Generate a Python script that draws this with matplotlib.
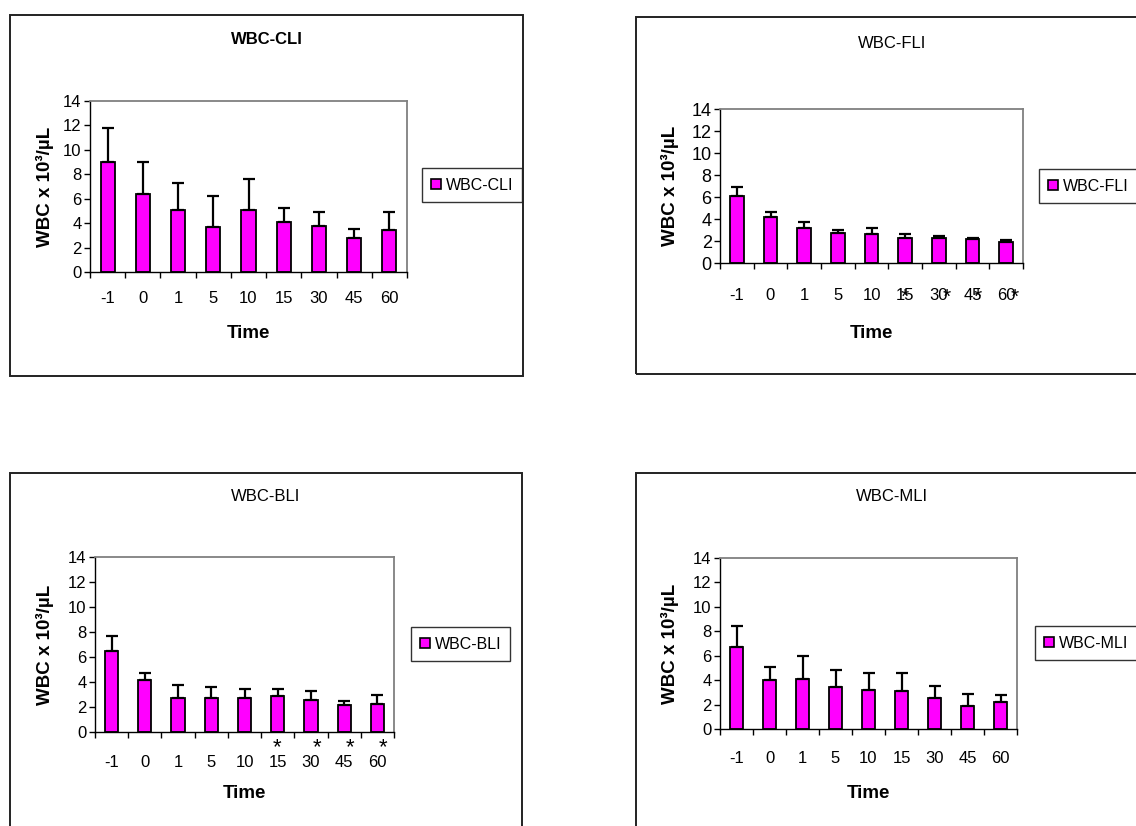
import matplotlib
matplotlib.use("Agg")
import matplotlib.pyplot as plt
from matplotlib.lines import Line2D
from matplotlib.patches import Rectangle

plt.rcParams["font.family"] = ["Liberation Sans", "DejaVu Sans"]

times = ["-1", "0", "1", "5", "10", "15", "30", "45", "60"]

cli_mean = [9.0, 6.4, 5.1, 3.7, 5.1, 4.1, 3.8, 2.8, 3.4]
cli_sd = [2.8, 2.6, 2.2, 2.5, 2.5, 1.1, 1.1, 0.7, 1.5]

fli_mean = [6.1, 4.2, 3.2, 2.75, 2.6, 2.3, 2.25, 2.15, 1.95]
fli_sd = [0.8, 0.45, 0.55, 0.25, 0.55, 0.33, 0.2, 0.15, 0.15]

bli_mean = [6.5, 4.2, 2.7, 2.75, 2.7, 2.85, 2.6, 2.2, 2.25]
bli_sd = [1.2, 0.5, 1.1, 0.85, 0.75, 0.6, 0.7, 0.27, 0.72]

mli_mean = [6.7, 4.0, 4.1, 3.4, 3.2, 3.1, 2.5, 1.9, 2.25]
mli_sd = [1.75, 1.1, 1.85, 1.45, 1.35, 1.45, 1.05, 0.95, 0.5]

# time points marked significant (index into times)
fli_sig = [5, 6, 7, 8]
bli_sig = [5, 6, 7, 8]

BAR = "#ff00ff"
W, H = 1136, 826
fig = plt.figure(figsize=(W / 100, H / 100), dpi=100)


def px_rect(x0, y0, x1, y1):
    return [x0 / W, 1 - y1 / H, (x1 - x0) / W, (y1 - y0) / H]


def frame(x0, y0, x1, y1):
    fig.patches.append(Rectangle((x0 / W, 1 - y1 / H), (x1 - x0) / W, (y1 - y0) / H,
                                 transform=fig.transFigure, fill=False,
                                 edgecolor="#222222", linewidth=1.4, clip_on=False))


def panel(rect, mean, sd, name, title_bold, title_xy, ylab_x, xlab_y, leg_x, leg_y,
          ytick_size=12, tick_pad=8):
    ax = fig.add_axes(px_rect(*rect))
    x = list(range(len(times)))
    ax.bar(x, mean, width=0.4, color=BAR, edgecolor="black", linewidth=1.3, zorder=2)
    ax.errorbar(x, mean, yerr=[[0] * len(sd), sd], fmt="none", ecolor="black",
                elinewidth=1.6, capsize=4.6, capthick=1.6, zorder=3)
    ax.set_xlim(-0.5, len(times) - 0.5)
    ax.set_ylim(0, 14)
    ax.set_yticks(range(0, 15, 2))
    ax.tick_params(axis="y", direction="out", length=4, width=1, labelsize=ytick_size, pad=2)
    ax.set_xticks([i - 0.5 for i in range(len(times) + 1)])
    ax.set_xticklabels([])
    ax.set_xticks(x, minor=True)
    ax.set_xticklabels(times, minor=True, fontsize=12)
    ax.tick_params(axis="x", which="major", direction="out", length=4, width=1)
    ax.tick_params(axis="x", which="minor", length=0, pad=tick_pad)
    for s in ("top", "right"):
        ax.spines[s].set_color("#808080")
        ax.spines[s].set_linewidth(1.3)
    for s in ("left", "bottom"):
        ax.spines[s].set_color("black")
        ax.spines[s].set_linewidth(1.0)

    fig.text(title_xy[0] / W, 1 - title_xy[1] / H, name, ha="center", va="center",
             fontsize=12, fontweight="bold" if title_bold else "normal")
    fig.text(ylab_x / W, 1 - (rect[1] + rect[3]) / 2 / H, "WBC x 10³/µL", rotation=90,
             ha="center", va="center", fontsize=13.5, fontweight="bold")
    fig.text((rect[0] + rect[2]) / 2 / W, 1 - xlab_y / H, "Time", ha="center",
             va="center", fontsize=13.5, fontweight="bold")
    handle = Line2D([], [], linestyle="none", marker="s", markersize=7,
                    markerfacecolor=BAR, markeredgecolor="black", markeredgewidth=1.2)
    leg = ax.legend([handle], [name], loc="center left",
                    bbox_to_anchor=(leg_x / W, 1 - leg_y / H),
                    bbox_transform=fig.transFigure, fontsize=11.5, frameon=True,
                    fancybox=False, edgecolor="black", handlelength=0.7,
                    handleheight=1.2, handletextpad=0.25, borderpad=0.55,
                    borderaxespad=0)
    leg.get_frame().set_linewidth(1.0)
    return ax


frame(10, 15, 523, 376)
frame(636, 17, 1160, 374)
frame(10, 473, 522, 860)
frame(636, 473, 1160, 860)

ax1 = panel((90, 101, 407, 272), cli_mean, cli_sd, "WBC-CLI", True, (267, 39), 45, 334,
            422, 185, tick_pad=14)
ax2 = panel((720, 109, 1023, 263), fli_mean, fli_sd, "WBC-FLI", False, (892, 43), 670, 333,
            1039, 186, ytick_size=13, tick_pad=18)
ax3 = panel((95, 557, 394, 732), bli_mean, bli_sd, "WBC-BLI", False, (266, 497), 45, 794,
            411, 644, tick_pad=16.5)
ax4 = panel((720, 558, 1017, 729), mli_mean, mli_sd, "WBC-MLI", False, (892, 497), 670, 793,
            1035, 643, tick_pad=16)

# significance stars next to / under the time labels
for i, dx in zip(fli_sig, [0.0, 0.23, 0.16, 0.25]):
    ax2.annotate("*", xy=(i + dx, 0), xycoords="data", xytext=(0, -34),
                 textcoords="offset pixels", ha="center", va="center", fontsize=15)
for i, dx in zip(bli_sig, [-0.03, 0.17, 0.18, 0.16]):
    ax3.annotate("*", xy=(i + dx, 0), xycoords="data", xytext=(0, -16),
                 textcoords="offset pixels", ha="center", va="center", fontsize=16)

fig.savefig("out.png", dpi=100)
